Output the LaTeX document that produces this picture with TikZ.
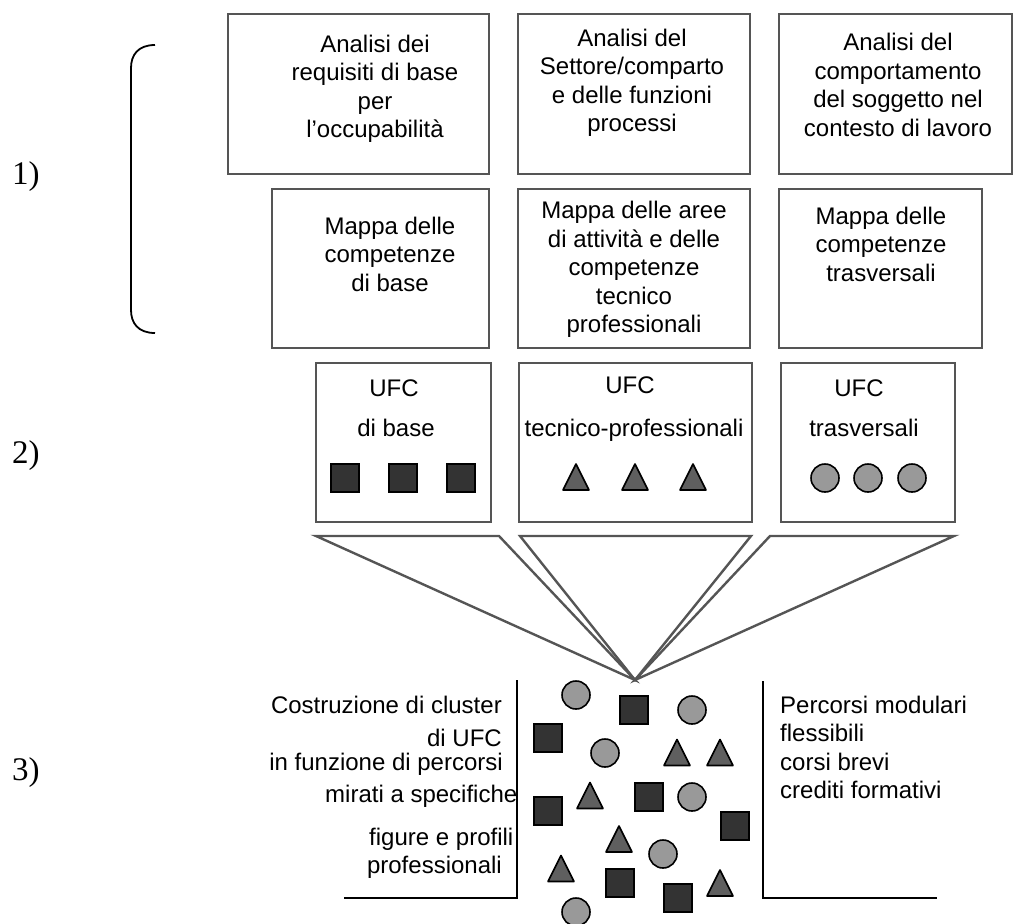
\documentclass[tikz,border=0pt]{standalone}
\usepackage{fontspec}
\setmainfont{Liberation Sans}
\newfontfamily\numfont{Liberation Serif}
\definecolor{boxgray}{RGB}{85,85,85}
\definecolor{sqfill}{RGB}{51,51,51}
\definecolor{trifill}{RGB}{95,95,95}
\definecolor{circfill}{RGB}{153,153,153}
\begin{document}
\begin{tikzpicture}[x=1pt,y=-1pt,
  box/.style={draw=boxgray, line width=2.2pt},
  txt/.style={font=\fontsize{24}{28.5}\selectfont, align=center, inner sep=0pt, anchor=north},
  ltxt/.style={font=\fontsize{24}{28.5}\selectfont, align=left, inner sep=0pt, anchor=north west},
  rline/.style={font=\fontsize{24}{28.5}\selectfont, inner sep=0pt, anchor=base east},
  uline/.style={font=\fontsize{24}{28.5}\selectfont, inner sep=0pt, anchor=base},
  numlab/.style={font=\numfont\fontsize{33}{38}\selectfont, inner sep=0pt, anchor=base west},
  sq/.style={rectangle, draw=black, fill=sqfill, line width=1.6pt, minimum size=28pt, inner sep=0pt},
  circ/.style={circle, draw=black, fill=circfill, line width=1.6pt, minimum size=28pt, inner sep=0pt},
  tripath/.style={draw=black, fill=trifill, line width=1.6pt, line join=round},
  tri/.pic={\path[tripath] (-13,13) -- (13,13) -- (0,-13) -- cycle;},
  funnel/.style={draw=boxgray, line width=2.4pt, line join=miter},
  wall/.style={draw=black, line width=2.8pt}
]
\useasboundingbox (0,0) rectangle (1013,924);

% section numbers
\node[numlab] (n1) at (12,184) {1)};
\node[numlab] (n2) at (12,463) {2)};
\node[numlab] (n3) at (12,780) {3)};

% bracket
\draw[line width=1.8pt] (155,45) .. controls (138,45) and (131,55) .. (131,68)
  -- (131,310) .. controls (131,323) and (138,333) .. (155,333);

% top row boxes
\draw[box] (228,14) rectangle (489,174);
\draw[box] (518,14) rectangle (750,174);
\draw[box] (779,14) rectangle (1012,174);
\node[txt] (a1) at (375,32) {\strut Analisi dei\\requisiti di base\\per\\l’occupabilità};
\node[txt] (a2) at (632,26) {\strut Analisi del\\Settore/comparto\\e delle funzioni\\processi};
\node[txt] (a3) at (898,30.5) {\strut Analisi del\\comportamento\\del soggetto nel\\contesto di lavoro};

% second row boxes
\draw[box] (272,189) rectangle (489,348);
\draw[box] (518,189) rectangle (750,348);
\draw[box] (779,189) rectangle (982,348);
\node[txt] (m1) at (390,214) {\strut Mappa delle\\competenze\\di base};
\node[txt] (m2) at (634,198.6) {\strut Mappa delle aree\\di attività e delle\\competenze\\tecnico\\professionali};
\node[txt] (m3) at (881,204) {\strut Mappa delle\\competenze\\trasversali};

% UFC boxes
\draw[box] (316,363) rectangle (491,522);
\draw[box] (519,363) rectangle (752,522);
\draw[box] (781,363) rectangle (955,522);
\node[uline] (u1a) at (394,396.6) {UFC};
\node[uline] (u1b) at (396,436.6) {di base};
\node[uline] (u2a) at (630,393.6) {UFC};
\node[uline] (u2b) at (634,436.6) {tecnico-professionali};
\node[uline] (u3a) at (859,396.6) {UFC};
\node[uline] (u3b) at (864,436.6) {trasversali};

\node[sq] (us1) at (345,478) {};
\node[sq] (us2) at (403,478) {};
\node[sq] (us3) at (461,478) {};
\pic at (576,477) {tri};
\pic at (635,477) {tri};
\pic at (693,477) {tri};
\node[circ] (uc1) at (825,478) {};
\node[circ] (uc2) at (868,478) {};
\node[circ] (uc3) at (912,478) {};

% funnel
\coordinate (f1a) at (316,536);
\coordinate (f1b) at (499,536);
\coordinate (f2a) at (520,536);
\coordinate (f2b) at (751,536);
\coordinate (f3a) at (770,536);
\coordinate (f3b) at (954,536);
\coordinate (apex) at (635,680);
\draw[funnel] (f1a) -- (f1b) -- (apex) -- cycle;
\draw[funnel] (f2a) -- (f2b) -- (apex) -- cycle;
\draw[funnel] (f3a) -- (f3b) -- (apex) -- cycle;

% walls
\draw[wall] (517,680) -- (517,898) -- (344,898);
\draw[wall] (763,681) -- (763,898) -- (937,898);

% left text
\node[rline] (l1) at (502,713) {Costruzione di cluster};
\node[rline] (l2) at (502,746.5) {di UFC};
\node[rline] (l3) at (503,770) {in funzione di percorsi};
\node[rline] (l4) at (517.5,802.5) {mirati a specifiche};
\node[rline] (l5) at (513.5,845) {figure e profili};
\node[rline] (l6) at (502,873) {professionali};

% right text
\node[ltxt] (r1) at (780,693.3) {\strut Percorsi modulari\\flessibili\\corsi brevi\\crediti formativi};

% scattered UFC
\node[circ] (c1) at (576,695) {};
\node[circ] (c2) at (692,710) {};
\node[circ] (c3) at (605,753) {};
\node[circ] (c4) at (692,797) {};
\node[circ] (c5) at (663,854) {};
\node[circ] (c6) at (576,912) {};
\node[sq] (s1) at (634,710) {};
\node[sq] (s2) at (548,738) {};
\node[sq] (s3) at (649,797) {};
\node[sq] (s4) at (548,811) {};
\node[sq] (s5) at (735,826) {};
\node[sq] (s6) at (620,883) {};
\node[sq] (s7) at (678,898) {};
\pic at (677,752.5) {tri};
\pic at (720,752.5) {tri};
\pic at (590,795.5) {tri};
\pic at (619,839) {tri};
\pic at (561,868.5) {tri};
\pic at (720,883) {tri};
\end{tikzpicture}
\end{document}
